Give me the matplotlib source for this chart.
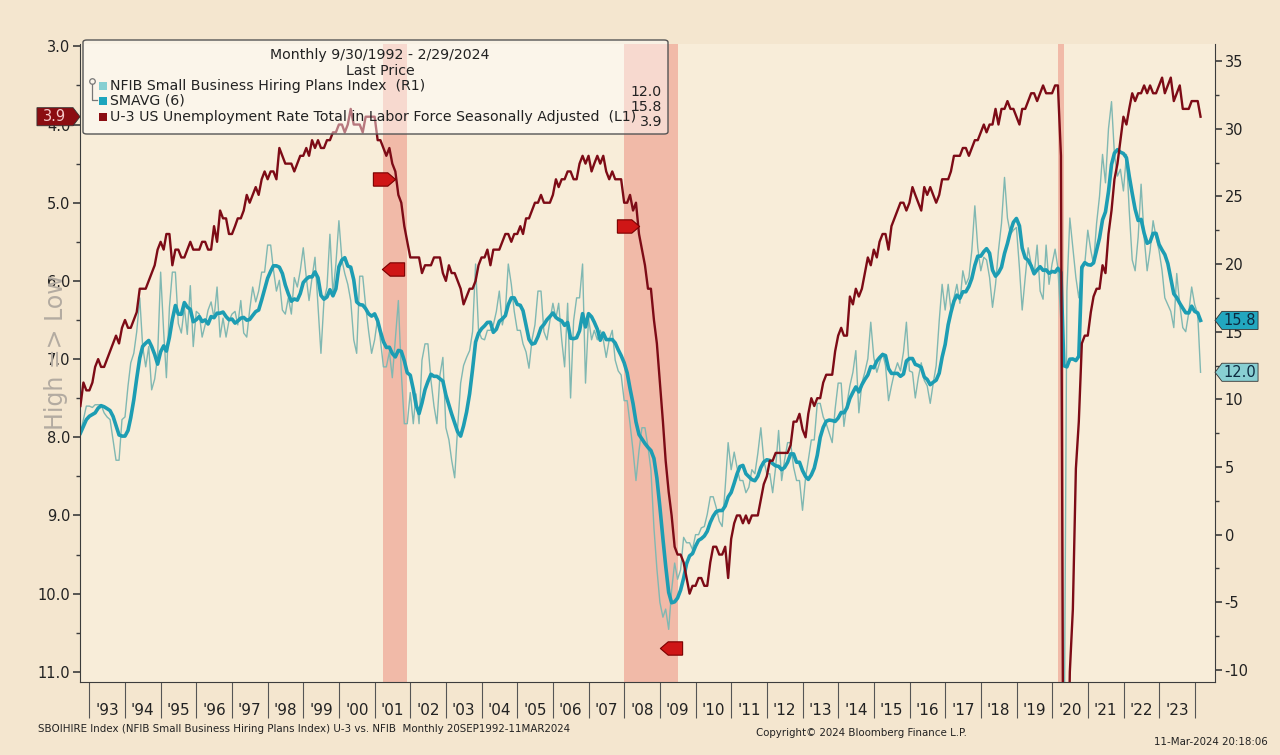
import numpy as np
import pandas as pd
import matplotlib
matplotlib.use("Agg")
import matplotlib.pyplot as plt
import matplotlib.dates as mdates
import matplotlib.transforms as mtransforms
from matplotlib.patches import Polygon, FancyBboxPatch, Rectangle
from matplotlib.lines import Line2D
from matplotlib.ticker import MultipleLocator, FixedLocator, FixedFormatter, NullFormatter, FormatStrFormatter

plt.rcParams['font.family'] = ['DejaVu Sans']
plt.rcParams['axes.unicode_minus'] = False

# monthly, 30 Sep 1992 .. 29 Feb 2024
dates = pd.date_range('1992-09-30', periods=378, freq='ME')

# U-3 unemployment rate (left axis, inverted)
unemployment = [
    7.6, 7.3, 7.4, 7.4,
    7.3, 7.1, 7.0, 7.1, 7.1, 7.0, 6.9, 6.8, 6.7, 6.8, 6.6, 6.5,
    6.6, 6.6, 6.5, 6.4, 6.1, 6.1, 6.1, 6.0, 5.9, 5.8, 5.6, 5.5,
    5.6, 5.4, 5.4, 5.8, 5.6, 5.6, 5.7, 5.7, 5.6, 5.5, 5.6, 5.6,
    5.6, 5.5, 5.5, 5.6, 5.6, 5.3, 5.5, 5.1, 5.2, 5.2, 5.4, 5.4,
    5.3, 5.2, 5.2, 5.1, 4.9, 5.0, 4.9, 4.8, 4.9, 4.7, 4.6, 4.7,
    4.6, 4.6, 4.7, 4.3, 4.4, 4.5, 4.5, 4.5, 4.6, 4.5, 4.4, 4.4,
    4.3, 4.4, 4.2, 4.3, 4.2, 4.3, 4.3, 4.2, 4.2, 4.1, 4.1, 4.0,
    4.0, 4.1, 4.0, 3.8, 4.0, 4.0, 4.0, 4.1, 3.9, 3.9, 3.9, 3.9,
    4.2, 4.2, 4.3, 4.4, 4.3, 4.5, 4.6, 4.9, 5.0, 5.3, 5.5, 5.7,
    5.7, 5.7, 5.7, 5.9, 5.8, 5.8, 5.8, 5.7, 5.7, 5.7, 5.9, 6.0,
    5.8, 5.9, 5.9, 6.0, 6.1, 6.3, 6.2, 6.1, 6.1, 6.0, 5.8, 5.7,
    5.7, 5.6, 5.8, 5.6, 5.6, 5.6, 5.5, 5.4, 5.4, 5.5, 5.4, 5.4,
    5.3, 5.4, 5.2, 5.2, 5.1, 5.0, 5.0, 4.9, 5.0, 5.0, 5.0, 4.9,
    4.7, 4.8, 4.7, 4.7, 4.6, 4.6, 4.7, 4.7, 4.5, 4.4, 4.5, 4.4,
    4.6, 4.5, 4.4, 4.5, 4.4, 4.6, 4.7, 4.6, 4.7, 4.7, 4.7, 5.0,
    5.0, 4.9, 5.1, 5.0, 5.4, 5.6, 5.8, 6.1, 6.1, 6.5, 6.8, 7.3,
    7.8, 8.3, 8.7, 9.0, 9.4, 9.5, 9.5, 9.6, 9.8, 10.0, 9.9, 9.9,
    9.8, 9.8, 9.9, 9.9, 9.6, 9.4, 9.4, 9.5, 9.5, 9.4, 9.8, 9.3,
    9.1, 9.0, 9.0, 9.1, 9.0, 9.1, 9.0, 9.0, 9.0, 8.8, 8.6, 8.5,
    8.3, 8.3, 8.2, 8.2, 8.2, 8.2, 8.2, 8.1, 7.8, 7.8, 7.7, 7.9,
    8.0, 7.7, 7.5, 7.6, 7.5, 7.5, 7.3, 7.2, 7.2, 7.2, 6.9, 6.7,
    6.6, 6.7, 6.7, 6.2, 6.3, 6.1, 6.2, 6.1, 5.9, 5.7, 5.8, 5.6,
    5.7, 5.5, 5.4, 5.4, 5.6, 5.3, 5.2, 5.1, 5.0, 5.0, 5.1, 5.0,
    4.8, 4.9, 5.0, 5.1, 4.8, 4.9, 4.8, 4.9, 5.0, 4.9, 4.7, 4.7,
    4.7, 4.6, 4.4, 4.4, 4.4, 4.3, 4.3, 4.4, 4.3, 4.2, 4.2, 4.1,
    4.0, 4.1, 4.0, 4.0, 3.8, 4.0, 3.8, 3.8, 3.7, 3.8, 3.8, 3.9,
    4.0, 3.8, 3.8, 3.7, 3.6, 3.6, 3.7, 3.6, 3.5, 3.6, 3.6, 3.6,
    3.5, 3.5, 4.4, 14.8, 13.2, 11.0, 10.2, 8.4, 7.8, 6.8, 6.7, 6.7,
    6.4, 6.2, 6.1, 6.1, 5.8, 5.9, 5.4, 5.1, 4.7, 4.5, 4.2, 3.9,
    4.0, 3.8, 3.6, 3.7, 3.6, 3.6, 3.5, 3.6, 3.5, 3.6, 3.6, 3.5,
    3.4, 3.6, 3.5, 3.4, 3.7, 3.6, 3.5, 3.8, 3.8, 3.8, 3.7, 3.7,
    3.7, 3.9,
]

# NFIB small business hiring plans index (right axis)
hiring_plans = [
    7.5, 8.5, 9.5, 9.5,
    9.4, 9.6, 9.6, 9.6, 9.0, 8.7, 8.5, 7.0, 5.5, 5.5, 8.5, 8.7,
    11.0, 12.7, 13.4, 15.0, 17.5, 13.9, 12.4, 13.9, 10.7, 11.5, 13.2, 19.4,
    15.0, 11.6, 16.8, 19.4, 19.4, 15.6, 14.9, 16.8, 14.8, 18.4, 13.9, 16.5,
    16.3, 14.6, 15.5, 16.6, 17.2, 16.0, 18.3, 14.6, 16.0, 14.6, 15.8, 16.3,
    16.5, 15.5, 17.3, 14.9, 14.6, 16.6, 18.3, 17.2, 18.0, 19.4, 19.4, 21.4,
    21.4, 19.6, 18.0, 18.8, 16.6, 16.3, 17.5, 16.3, 19.0, 18.3, 19.5, 21.2,
    19.0, 17.3, 19.0, 20.5, 16.9, 13.4, 17.3, 18.3, 22.2, 17.8, 20.0, 23.2,
    20.3, 19.3, 18.5, 17.3, 14.4, 13.4, 19.1, 19.1, 16.9, 15.0, 13.4, 14.4,
    16.0, 14.4, 12.4, 12.4, 13.5, 11.6, 14.5, 17.3, 12.0, 8.2, 8.2, 10.5,
    8.2, 10.4, 8.2, 12.9, 14.1, 14.1, 11.4, 9.5, 8.2, 11.8, 13.1, 7.9,
    7.0, 5.5, 4.2, 7.9, 11.2, 12.5, 13.1, 13.6, 15.0, 20.0, 15.1, 14.5,
    14.4, 15.1, 15.1, 15.5, 16.5, 18.0, 15.5, 16.5, 20.0, 18.5, 16.5, 15.1,
    15.1, 14.1, 13.5, 12.3, 14.4, 15.5, 18.0, 18.0, 15.0, 14.4, 15.8, 17.1,
    16.0, 17.1, 14.4, 12.4, 17.1, 10.1, 15.8, 17.5, 17.5, 20.0, 11.2, 16.0,
    14.4, 15.1, 14.4, 15.1, 14.4, 13.1, 14.4, 15.1, 12.9, 12.1, 11.8, 9.9,
    9.9, 8.2, 6.2, 4.0, 6.2, 7.9, 7.9, 6.5, 4.8, 0.5, -2.5, -5.0,
    -6.1, -5.5, -7.0, -4.1, -2.1, -3.3, -2.6, -0.2, -0.6, -0.6, -1.1, 0.0,
    0.0, 0.5, 0.6, 1.5, 2.8, 2.8, 2.0, 1.0, 0.6, 3.5, 6.8, 4.8,
    6.1, 5.0, 4.0, 4.0, 3.1, 3.5, 4.8, 4.5, 6.0, 7.9, 5.5, 4.5,
    4.5, 3.1, 5.0, 7.7, 4.0, 5.5, 6.8, 6.8, 5.0, 4.0, 4.0, 1.8,
    4.2, 5.5, 7.0, 7.0, 9.7, 9.7, 8.7, 8.2, 7.5, 6.8, 9.3, 11.2,
    11.2, 8.0, 9.7, 11.0, 12.0, 13.6, 9.0, 11.2, 12.0, 13.0, 15.7, 13.1,
    12.0, 12.7, 13.4, 12.5, 9.9, 11.0, 12.0, 12.7, 12.1, 13.5, 15.7, 12.1,
    12.0, 10.1, 11.6, 12.7, 11.4, 11.0, 9.7, 11.2, 12.5, 15.8, 18.5, 16.6,
    18.5, 16.6, 17.5, 18.5, 17.1, 19.5, 18.5, 19.0, 21.0, 24.3, 21.2, 19.5,
    20.5, 20.3, 19.0, 16.8, 18.5, 21.0, 23.0, 26.4, 23.4, 22.2, 22.5, 22.7,
    19.7, 16.6, 19.0, 21.2, 20.0, 19.2, 21.4, 18.0, 17.4, 21.4, 18.5, 20.0,
    21.1, 19.7, 15.6, -20.0, 18.0, 23.4, 21.2, 19.0, 17.5, 19.5, 20.0, 22.5,
    21.0, 20.0, 23.0, 25.0, 28.1, 26.0, 30.0, 32.0, 28.1, 26.5, 27.0, 25.4,
    28.1, 24.0, 20.3, 19.5, 22.0, 25.9, 22.0, 19.5, 21.0, 23.2, 22.0, 21.0,
    19.5, 17.5, 17.0, 16.5, 15.3, 19.3, 17.0, 15.3, 15.0, 16.4, 18.3, 17.0,
    16.3, 12.0,
]

recessions = [('2001-03-31', '2001-11-30'),
              ('2007-12-31', '2009-06-30'),
              ('2020-02-29', '2020-04-30')]

event_dates = ['2001-04-01', '2001-07-08', '2008-02-06', '2009-04-20']
event_levels = [4.7, 5.85, 5.3, 10.7]
event_dirs = ['right', 'left', 'right', 'left']

years = list(range(1993, 2024))
year_labels = ["'%02d" % (y % 100) for y in years]

smavg = pd.Series(hiring_plans).rolling(6, min_periods=1).mean().values

BG = '#f4e6cf'
PLOT_BG = '#f8edd9'
RED = '#7d0b16'
THIN = '#80b8b2'
THICK = '#1d9db3'
BAND = '#f0ae9c'
LEG_FS = 10.2
FOOT_FS = 7.4


def fx(x):
    return x / 1280.0


def fy(y):
    return 1 - y / 755.0


fig = plt.figure(figsize=(12.8, 7.55), dpi=100, facecolor=BG)
ax = fig.add_axes([fx(80), fy(682), 1135 / 1280.0, 638 / 755.0])
ax2 = ax.twinx()
ax.set_zorder(2)
ax.patch.set_visible(False)
ax2.patch.set_visible(True)
ax2.set_facecolor(PLOT_BG)

for start, end in recessions:
    ax2.axvspan(pd.Timestamp(start), pd.Timestamp(end), color=BAND, alpha=0.8, lw=0, zorder=0.5)

ax2.plot(dates, hiring_plans, color=THIN, lw=1.0, zorder=2)
ax2.plot(dates, smavg, color=THICK, lw=2.6, zorder=3)
ax.plot(dates, unemployment, color=RED, lw=1.7, zorder=3)

# recession event markers
right_arrow = [(-1, -0.6), (0.3, -0.6), (1, 0), (0.3, 0.6), (-1, 0.6), (-1, -0.6)]
left_arrow = [(-x, y) for x, y in right_arrow]
for d, lvl, direc in zip(event_dates, event_levels, event_dirs):
    ax.plot(pd.Timestamp(d), lvl, marker=right_arrow if direc == 'right' else left_arrow,
            ms=16, mfc='#cf1616', mec='#7a0000', mew=0.8, zorder=6, ls='none')

ax.set_xlim(pd.Timestamp('1992-09-26'), pd.Timestamp('2024-07-26'))
ax.set_ylim(11.13, 2.97)
ax2.set_ylim(-10.89, 36.26)

for s in ['top', 'right']:
    ax.spines[s].set_visible(False)
for s in ['top', 'left', 'bottom']:
    ax2.spines[s].set_visible(False)
for s in ['left', 'bottom']:
    ax.spines[s].set_color('#3c3c3c')
ax2.spines['right'].set_color('#3c3c3c')

ax.xaxis.set_major_locator(mdates.YearLocator())
ax.xaxis.set_major_formatter(NullFormatter())
mids = [mdates.date2num(pd.Timestamp('%d-07-01' % y)) for y in years]
ax.xaxis.set_minor_locator(FixedLocator(mids))
ax.xaxis.set_minor_formatter(FixedFormatter(year_labels))
ax.tick_params(axis='x', which='major', length=26, width=0.8, color='#555555', direction='out')
ax.tick_params(axis='x', which='minor', length=0, pad=15, labelsize=11, labelcolor='#222222')

ax.yaxis.set_major_locator(MultipleLocator(1))
ax.yaxis.set_minor_locator(MultipleLocator(0.5))
ax.yaxis.set_major_formatter(FormatStrFormatter('%.1f'))
ax.tick_params(axis='y', which='major', length=5, width=1.2, direction='out', labelsize=10.5,
               pad=2, color='#3c3c3c', labelcolor='#222222')
ax.tick_params(axis='y', which='minor', length=3, width=1.0, direction='out', color='#3c3c3c')

ax2.yaxis.set_major_locator(MultipleLocator(5))
ax2.yaxis.set_minor_locator(MultipleLocator(2.5))
ax2.tick_params(axis='y', which='major', length=5, width=1.2, direction='out', labelsize=10.5,
                pad=2, color='#3c3c3c', labelcolor='#222222')
ax2.tick_params(axis='y', which='minor', length=3, width=1.0, direction='out', color='#3c3c3c')


def value_tag(axis, side, level, text, face, tcolor):
    x0 = 0 if side == 'left' else 1
    sgn = -1 if side == 'left' else 1
    anchor = mtransforms.ScaledTranslation(x0, level, axis.get_yaxis_transform())
    trans = mtransforms.Affine2D().scale(fig.dpi / 72.0) + anchor
    verts = [(0, 0), (sgn * 5, -6.5), (sgn * 31, -6.5), (sgn * 31, 6.5), (sgn * 5, 6.5)]
    poly = Polygon(verts, closed=True, transform=trans, facecolor=face,
                   edgecolor='#333333', lw=0.6, zorder=30)
    fig.add_artist(poly)
    fig.text(sgn * 18, 0, text, transform=trans, ha='center', va='center',
             fontsize=10.5, color=tcolor, zorder=31)


value_tag(ax, 'left', unemployment[-1], '%.1f' % unemployment[-1], '#8b0d12', '#f6c9c9')
value_tag(ax2, 'right', smavg[-1], '%.1f' % smavg[-1], '#22a7bf', '#0c2a40')
value_tag(ax2, 'right', hiring_plans[-1], '%.1f' % hiring_plans[-1], '#88cfd2', '#0c2a40')

# legend box
box = FancyBboxPatch((fx(83), fy(134)), fx(668) - fx(83), fy(40) - fy(134),
                     boxstyle='round,pad=0,rounding_size=0.003', transform=fig.transFigure,
                     facecolor=(1, 1, 1, 0.45), edgecolor='#555555', lw=1.0, zorder=20)
fig.add_artist(box)
fig.text(fx(380), fy(55), 'Monthly 9/30/1992 - 2/29/2024', ha='center', va='center',
         fontsize=LEG_FS, color='#222222', zorder=21)
fig.text(fx(380), fy(71), 'Last Price', ha='center', va='center',
         fontsize=LEG_FS, color='#222222', zorder=21)

entries = [('NFIB Small Business Hiring Plans Index  (R1)', '#86cfd2', 86, hiring_plans[-1], 92),
           ('SMAVG (6)', '#1ea5bd', 101, smavg[-1], 107),
           ('U-3 US Unemployment Rate Total in Labor Force Seasonally Adjusted  (L1)', '#8b0d12', 117,
            unemployment[-1], 122)]
for label, col, ypix, last, vy in entries:
    fig.add_artist(Rectangle((fx(99), fy(ypix + 4)), 8 / 1280.0, 8 / 755.0,
                             transform=fig.transFigure, facecolor=col, edgecolor='none', zorder=21))
    fig.text(fx(110), fy(ypix), label, ha='left', va='center', fontsize=LEG_FS,
             color='#222222', zorder=21)
    fig.text(fx(662), fy(vy), '%.1f' % last, ha='right', va='center', fontsize=LEG_FS,
             color='#222222', zorder=21)

fig.add_artist(Line2D([fx(92), fx(92), fx(97)], [fy(84), fy(100), fy(100)],
                      transform=fig.transFigure, color='#777777', lw=0.9, zorder=21))
fig.add_artist(Line2D([fx(92)], [fy(81)], transform=fig.transFigure, marker='o', ms=4,
                      mfc='none', mec='#777777', mew=0.9, zorder=21))

fig.text(fx(56), fy(352), 'High => Low', rotation=90, ha='center', va='center',
         fontsize=17, color='#b3aba1')

fig.text(fx(38), fy(729), 'SBOIHIRE Index (NFIB Small Business Hiring Plans Index) U-3 vs. NFIB  Monthly 20SEP1992-11MAR2024',
         ha='left', va='center', fontsize=FOOT_FS, color='#222222')
fig.text(fx(861), fy(733), 'Copyright\u00a9 2024 Bloomberg Finance L.P.', ha='center', va='center',
         fontsize=FOOT_FS, color='#222222')
fig.text(fx(1268), fy(742), '11-Mar-2024 20:18:06', ha='right', va='center',
         fontsize=FOOT_FS, color='#222222')

fig.savefig('out.png', dpi=100, facecolor=BG)
